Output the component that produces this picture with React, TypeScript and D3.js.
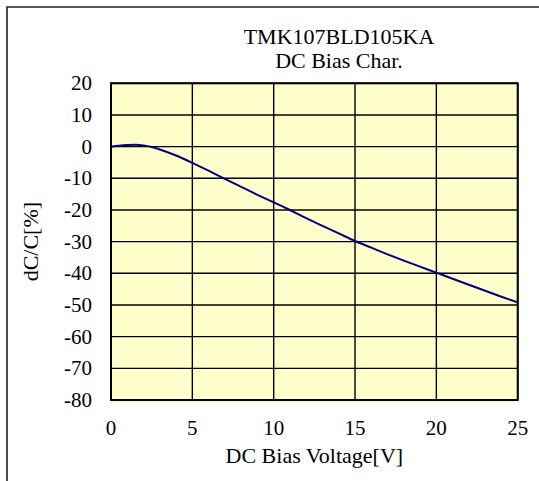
import React, { useEffect, useRef } from "react";
import * as d3 from "d3";

// DC bias characteristic
const voltage = [0, 0.5, 1, 1.5, 2, 2.5, 3, 4, 5, 6, 7, 8, 9, 10, 11, 12, 13, 14, 15, 16, 17, 18, 19, 20, 21, 22, 23, 24, 25];
const capChange = [0, 0.3, 0.5, 0.6, 0.4, -0.1, -0.9, -2.8, -5.1, -7.6, -10.2, -12.7, -15.2, -17.6, -20, -22.6, -25, -27.4, -29.8, -31.9, -34, -36, -37.9, -39.8, -41.7, -43.6, -45.5, -47.4, -49.2];

const xTicks = [0, 5, 10, 15, 20, 25];
const yTicks = [20, 10, 0, -10, -20, -30, -40, -50, -60, -70, -80];
const titleLines = ["TMK107BLD105KA", "DC Bias Char."];

const App: React.FC = () => {
  const svgRef = useRef<SVGSVGElement | null>(null);

  useEffect(() => {
    if (!svgRef.current) return;
    const width = 539;
    const height = 481;
    const plot = { left: 111, top: 83.3, right: 517.7, bottom: 400 };
    const font = "'Liberation Serif', 'Times New Roman', serif";

    const svg = d3.select(svgRef.current);
    svg.selectAll("*").remove();
    svg.attr("width", width).attr("height", height);

    svg.append("rect").attr("width", width).attr("height", height).attr("fill", "#fff");

    // outer chart frame (runs off the right and bottom edges)
    svg
      .append("path")
      .attr("d", `M7,${height + 5} L7,7 L${width + 5},7`)
      .attr("fill", "none")
      .attr("stroke", "#222")
      .attr("stroke-width", 1.6);

    const x = d3.scaleLinear().domain([0, 25]).range([plot.left, plot.right]);
    const y = d3.scaleLinear().domain([-80, 20]).range([plot.bottom, plot.top]);

    // plot background
    svg
      .append("rect")
      .attr("x", plot.left)
      .attr("y", plot.top)
      .attr("width", plot.right - plot.left + 2)
      .attr("height", plot.bottom - plot.top + 2.5)
      .attr("fill", "#FFFFCC");

    // grid
    svg
      .append("g")
      .selectAll("line")
      .data(yTicks)
      .enter()
      .append("line")
      .attr("x1", plot.left)
      .attr("x2", plot.right)
      .attr("y1", (d) => y(d))
      .attr("y2", (d) => y(d))
      .attr("stroke", "#000")
      .attr("stroke-width", 1.4);

    svg
      .append("g")
      .selectAll("line")
      .data(xTicks)
      .enter()
      .append("line")
      .attr("x1", (d) => x(d))
      .attr("x2", (d) => x(d))
      .attr("y1", plot.top)
      .attr("y2", plot.bottom)
      .attr("stroke", "#000")
      .attr("stroke-width", 1.4);

    svg
      .append("rect")
      .attr("x", plot.left)
      .attr("y", plot.top)
      .attr("width", plot.right - plot.left)
      .attr("height", plot.bottom - plot.top)
      .attr("fill", "none")
      .attr("stroke", "#000")
      .attr("stroke-width", 2);

    // curve
    const points = voltage.map((v, i) => [v, capChange[i]] as [number, number]);
    svg
      .append("path")
      .datum(points)
      .attr("fill", "none")
      .attr("stroke", "#000080")
      .attr("stroke-width", 2)
      .attr(
        "d",
        d3
          .line<[number, number]>()
          .x((d) => x(d[0]))
          .y((d) => y(d[1]))
          .curve(d3.curveMonotoneX)
      );

    // tick labels
    svg
      .append("g")
      .selectAll("text")
      .data(yTicks)
      .enter()
      .append("text")
      .attr("x", 92)
      .attr("y", (d) => y(d) + 7)
      .attr("text-anchor", "end")
      .attr("font-family", font)
      .attr("font-size", 21)
      .attr("fill", "#000")
      .text((d) => String(d));

    svg
      .append("g")
      .selectAll("text")
      .data(xTicks)
      .enter()
      .append("text")
      .attr("x", (d) => x(d))
      .attr("y", 435)
      .attr("text-anchor", "middle")
      .attr("font-family", font)
      .attr("font-size", 21)
      .attr("fill", "#000")
      .text((d) => String(d));

    // titles
    svg
      .append("g")
      .selectAll("text")
      .data(titleLines)
      .enter()
      .append("text")
      .attr("x", 339)
      .attr("y", (_, i) => 44 + i * 23.7)
      .attr("text-anchor", "middle")
      .attr("font-family", font)
      .attr("font-size", 22)
      .attr("fill", "#000")
      .text((d) => d);

    svg
      .append("text")
      .attr("x", (plot.left + plot.right) / 2)
      .attr("y", 463)
      .attr("text-anchor", "middle")
      .attr("font-family", font)
      .attr("font-size", 22)
      .attr("fill", "#000")
      .text("DC Bias Voltage[V]");

    svg
      .append("text")
      .attr("transform", `translate(38, ${(plot.top + plot.bottom) / 2}) rotate(-90)`)
      .attr("text-anchor", "middle")
      .attr("font-family", font)
      .attr("font-size", 22)
      .attr("fill", "#000")
      .text("dC/C[%]");
  }, []);

  return (
    <div style={{ position: "fixed", left: 0, top: 0 }}>
      <svg ref={svgRef} style={{ display: "block" }} />
    </div>
  );
};

export default App;
